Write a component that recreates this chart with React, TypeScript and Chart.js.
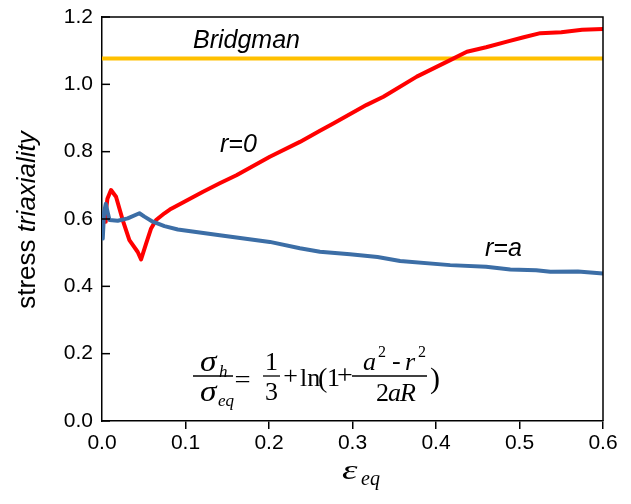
import { useEffect, useRef } from "react";
import { Chart, registerables } from "chart.js";

Chart.register(...registerables);

// ---- data ----
const redX = [0.0036, 0.0045, 0.0065, 0.0108, 0.0168, 0.0248, 0.0328, 0.0428, 0.0468, 0.0528, 0.0588, 0.0648, 0.0748, 0.0812, 0.0908, 0.121, 0.141, 0.161, 0.201, 0.237, 0.261, 0.277, 0.317, 0.337, 0.377, 0.417, 0.437, 0.46, 0.485, 0.505, 0.525, 0.55, 0.575, 0.6];
const redY = [0.592, 0.62, 0.66, 0.686, 0.666, 0.597, 0.537, 0.502, 0.48, 0.527, 0.572, 0.597, 0.617, 0.628, 0.641, 0.681, 0.706, 0.73, 0.785, 0.829, 0.862, 0.884, 0.939, 0.963, 1.023, 1.072, 1.097, 1.11, 1.127, 1.14, 1.152, 1.155, 1.162, 1.164];
const blueX = [0.0009, 0.0025, 0.0045, 0.0089, 0.0188, 0.0308, 0.0448, 0.0508, 0.0608, 0.0748, 0.0908, 0.141, 0.201, 0.237, 0.261, 0.297, 0.33, 0.357, 0.417, 0.46, 0.489, 0.52, 0.537, 0.57, 0.6];
const blueY = [0.542, 0.62, 0.645, 0.597, 0.595, 0.602, 0.617, 0.607, 0.592, 0.579, 0.569, 0.552, 0.532, 0.513, 0.503, 0.495, 0.487, 0.475, 0.463, 0.458, 0.45, 0.448, 0.443, 0.444, 0.438];
const bridgmanX = [0, 0.6];
const bridgmanY = [1.077, 1.077];
const xTickValues = [0, 0.1, 0.2, 0.3, 0.4, 0.5, 0.6];
const yTickValues = [0, 0.2, 0.4, 0.6, 0.8, 1.0, 1.2];

const SANS = "'Liberation Sans', Arial, sans-serif";
const SERIF = "'Liberation Serif', 'Times New Roman', serif";

const toPts = (xs: number[], ys: number[]) => xs.map((x, i) => ({ x, y: ys[i] }));

type Part = { t: string; f: string; dy?: number; dx?: number };

function runWidth(ctx: CanvasRenderingContext2D, parts: Part[]) {
  let w = 0;
  for (const p of parts) {
    ctx.font = p.f;
    w += ctx.measureText(p.t).width + (p.dx || 0);
  }
  return w;
}
function drawRun(ctx: CanvasRenderingContext2D, parts: Part[], x: number, y: number) {
  for (const p of parts) {
    ctx.font = p.f;
    x += p.dx || 0;
    ctx.fillText(p.t, x, y + (p.dy || 0));
    x += ctx.measureText(p.t).width;
  }
}
function txt(ctx: CanvasRenderingContext2D, t: string, f: string, x: number, y: number, align: CanvasTextAlign = "left", sx = 1) {
  ctx.save();
  ctx.font = f;
  ctx.textAlign = align;
  ctx.translate(x, y);
  ctx.scale(sx, 1);
  ctx.fillText(t, 0, 0);
  ctx.restore();
}
function hline(ctx: CanvasRenderingContext2D, x0: number, x1: number, y: number) {
  ctx.beginPath();
  ctx.lineWidth = 1.3;
  ctx.moveTo(x0, y);
  ctx.lineTo(x1, y);
  ctx.stroke();
}

const decorPlugin = {
  id: "decor",
  afterDraw(chart: any) {
    const { ctx, chartArea } = chart;
    const { left, right, top, bottom } = chartArea;
    const ys = chart.scales.y;
    ctx.save();
    ctx.strokeStyle = "#000";
    ctx.fillStyle = "#000";
    ctx.lineWidth = 1.5;
    // top & right frame
    ctx.beginPath();
    ctx.moveTo(left, top);
    ctx.lineTo(right, top);
    ctx.lineTo(right, bottom);
    ctx.stroke();
    // inward y ticks
    for (const v of yTickValues) {
      const py = ys.getPixelForValue(v);
      ctx.beginPath();
      ctx.moveTo(left, py);
      ctx.lineTo(left + 8, py);
      ctx.stroke();
    }
    ctx.textBaseline = "alphabetic";
    // labels
    txt(ctx, "Bridgman", `italic 25px ${SANS}`, 193, 48);
    txt(ctx, "r=0", `italic 25px ${SANS}`, 220, 152);
    txt(ctx, "r=a", `italic 25px ${SANS}`, 485, 256);

    // y title
    ctx.save();
    ctx.translate(35, 220);
    ctx.rotate(-Math.PI / 2);
    const yt: Part[] = [
      { t: "stress ", f: `26px ${SANS}` },
      { t: "triaxiality", f: `italic 26px ${SANS}` },
    ];
    drawRun(ctx, yt, -runWidth(ctx, yt) / 2, 0);
    ctx.restore();

    // x title
    txt(ctx, "ε", `italic 28px ${SERIF}`, 342, 479, "left", 1.4);
    txt(ctx, "eq", `italic 20px ${SERIF}`, 361, 485);

    // formula
    const big = `26px ${SERIF}`;
    const bigI = `italic 26px ${SERIF}`;
    const sig = `italic 29px ${SERIF}`;
    const sub = `italic 17px ${SERIF}`;
    const sup = `16px ${SERIF}`;
    const barY = 376;
    // sigma_h / sigma_eq
    txt(ctx, "σ", sig, 200, 371, "left", 1.15);
    txt(ctx, "h", sub, 219, 377);
    hline(ctx, 193, 233, barY);
    txt(ctx, "σ", sig, 200, 401, "left", 1.15);
    txt(ctx, "eq", sub, 218, 406);
    // =
    ctx.textBaseline = "middle";
    txt(ctx, "=", big, 242.5, 381, "center", 1.1);
    ctx.textBaseline = "alphabetic";
    // 1/3
    txt(ctx, "1", big, 271.5, 370, "center");
    hline(ctx, 263, 280, barY);
    txt(ctx, "3", big, 271.5, 400, "center");
    // +
    ctx.textBaseline = "middle";
    txt(ctx, "+", big, 290.5, 377, "center");
    ctx.textBaseline = "alphabetic";
    // ln(1+
    txt(ctx, "ln", big, 300, 386);
    txt(ctx, "(", `28px ${SERIF}`, 318, 387);
    txt(ctx, "1", big, 327, 386);
    ctx.textBaseline = "middle";
    txt(ctx, "+", `28px ${SERIF}`, 345, 377, "center");
    ctx.textBaseline = "alphabetic";
    // (a^2 - r^2)/(2aR)
    txt(ctx, "a", bigI, 363, 370);
    txt(ctx, "2", sup, 378, 357);
    txt(ctx, "-", big, 392, 369);
    txt(ctx, "r", bigI, 405, 370);
    txt(ctx, "2", sup, 418, 357);
    hline(ctx, 352, 427, barY);
    txt(ctx, "2", big, 376, 401);
    txt(ctx, "a", bigI, 388, 401);
    txt(ctx, "R", bigI, 400, 401);
    txt(ctx, ")", `30px ${SERIF}`, 430, 388);
    ctx.restore();
  },
};

export default function App() {
  const ref = useRef<HTMLCanvasElement | null>(null);
  useEffect(() => {
    if (!ref.current) return;
    const chart = new Chart(ref.current, {
      type: "line",
      data: {
        datasets: [
          {
            data: toPts(bridgmanX, bridgmanY),
            borderColor: "#FFC000",
            borderWidth: 4,
            pointRadius: 0,
            order: 3,
          },
          {
            data: toPts(redX, redY),
            borderColor: "#FF0000",
            borderWidth: 4,
            pointRadius: 0,
            order: 2,
          },
          {
            data: toPts(blueX, blueY),
            borderColor: "#3C6EA6",
            borderWidth: 4,
            pointRadius: 0,
            order: 1,
          },
        ],
      },
      options: {
        animation: false,
        responsive: false,
        maintainAspectRatio: false,
        layout: { padding: { top: 17, right: 28, left: 0, bottom: 0 } },
        plugins: { legend: { display: false }, tooltip: { enabled: false } },
        elements: { line: { tension: 0, borderCapStyle: "round", borderJoinStyle: "round" } },
        scales: {
          x: {
            type: "linear",
            min: 0,
            max: 0.6,
            afterBuildTicks: (s: any) => {
              s.ticks = xTickValues.map((v) => ({ value: v }));
            },
            afterFit: (s: any) => {
              s.height = 83;
              s.paddingLeft = 0;
              s.paddingRight = 0;
            },
            ticks: {
              color: "#000",
              font: { family: SANS, size: 21 },
              padding: 2,
              maxRotation: 0,
              callback: (v: any) => Number(v).toFixed(1),
            },
            grid: {
              drawOnChartArea: false,
              tickLength: 8,
              color: (c: any) => (c.index === 0 ? "rgba(0,0,0,0)" : "#000"),
              lineWidth: 1.5,
            },
            border: { color: "#000", width: 1.5 },
          },
          y: {
            type: "linear",
            min: 0,
            max: 1.2,
            afterBuildTicks: (s: any) => {
              s.ticks = yTickValues.map((v) => ({ value: v }));
            },
            afterFit: (s: any) => {
              s.width = 102;
              s.paddingTop = 0;
              s.paddingBottom = 0;
            },
            ticks: {
              color: "#000",
              font: { family: SANS, size: 21 },
              padding: 9,
              callback: (v: any) => Number(v).toFixed(1),
            },
            grid: { drawOnChartArea: false, drawTicks: false },
            border: { color: "#000", width: 1.5 },
          },
        },
      },
      plugins: [decorPlugin],
    });
    return () => chart.destroy();
  }, []);
  return (
    <div style={{ position: "fixed", left: 0, top: 0, width: 631, height: 504, background: "#fff" }}>
      <canvas ref={ref} width={631} height={504} style={{ display: "block" }} />
    </div>
  );
}
